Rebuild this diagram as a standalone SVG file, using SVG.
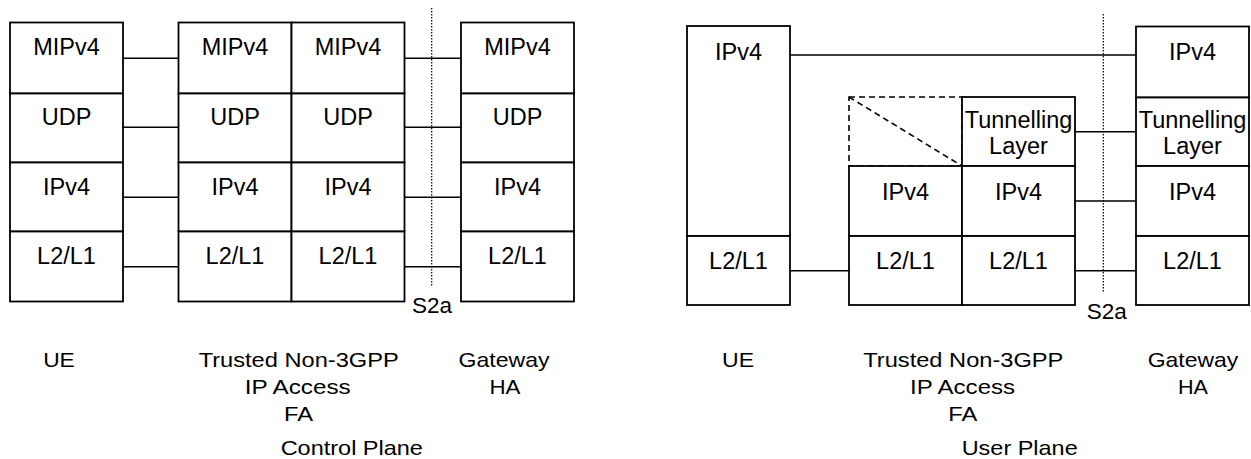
<svg xmlns="http://www.w3.org/2000/svg" width="1251" height="459" viewBox="0 0 1251 459">
<style>
.box{fill:#fff;stroke:#000;stroke-width:1.8}
.t{font-family:"Liberation Sans",Arial,sans-serif;font-size:23.5px;fill:#000;text-anchor:middle}
.lb{font-family:"Liberation Sans",Arial,sans-serif;font-size:21px;fill:#000;text-anchor:middle}
.s2a{font-family:"Liberation Sans",Arial,sans-serif;font-size:22.5px;fill:#000;text-anchor:middle}
.c{stroke:#000;stroke-width:1.6;fill:none}
.dot{stroke:#000;stroke-width:1.2;stroke-dasharray:1.5 1.5;fill:none}
.dash{stroke:#000;stroke-width:1.6;stroke-dasharray:6 4;fill:none}
</style>
<rect width="1251" height="459" fill="#fff"/>

<!-- Control plane -->
<g id="cp-ue">
<rect class="box" x="10" y="22.5" width="113" height="71"/>
<rect class="box" x="10" y="93.5" width="113" height="69"/>
<rect class="box" x="10" y="162.5" width="113" height="69"/>
<rect class="box" x="10" y="231.5" width="113" height="70"/>
<text class="t" x="66.5" y="55">MIPv4</text>
<text class="t" x="66.5" y="125">UDP</text>
<text class="t" x="66.5" y="194.5">IPv4</text>
<text class="t" x="66.5" y="264">L2/L1</text>
</g>
<g id="cp-trusted-1">
<rect class="box" x="178.5" y="22.5" width="113" height="71"/>
<rect class="box" x="178.5" y="93.5" width="113" height="69"/>
<rect class="box" x="178.5" y="162.5" width="113" height="69"/>
<rect class="box" x="178.5" y="231.5" width="113" height="70"/>
<text class="t" x="235" y="55">MIPv4</text>
<text class="t" x="235" y="125">UDP</text>
<text class="t" x="235" y="194.5">IPv4</text>
<text class="t" x="235" y="264">L2/L1</text>
</g>
<g id="cp-trusted-2">
<rect class="box" x="291.5" y="22.5" width="113" height="71"/>
<rect class="box" x="291.5" y="93.5" width="113" height="69"/>
<rect class="box" x="291.5" y="162.5" width="113" height="69"/>
<rect class="box" x="291.5" y="231.5" width="113" height="70"/>
<text class="t" x="348" y="55">MIPv4</text>
<text class="t" x="348" y="125">UDP</text>
<text class="t" x="348" y="194.5">IPv4</text>
<text class="t" x="348" y="264">L2/L1</text>
</g>
<g id="cp-gateway">
<rect class="box" x="461" y="22.5" width="113" height="71"/>
<rect class="box" x="461" y="93.5" width="113" height="69"/>
<rect class="box" x="461" y="162.5" width="113" height="69"/>
<rect class="box" x="461" y="231.5" width="113" height="70"/>
<text class="t" x="517.5" y="55">MIPv4</text>
<text class="t" x="517.5" y="125">UDP</text>
<text class="t" x="517.5" y="194.5">IPv4</text>
<text class="t" x="517.5" y="264">L2/L1</text>
</g>

<!-- User plane -->
<g id="up-ue">
<rect class="box" x="687" y="26" width="103" height="210"/>
<rect class="box" x="687" y="236" width="103" height="69"/>
<text class="t" x="738.5" y="59.5">IPv4</text>
<text class="t" x="738.5" y="268.5">L2/L1</text>
</g>
<g id="up-trusted-1">
<rect x="849" y="97" width="113" height="69" fill="none" class="dash"/>
<line class="dash" x1="849" y1="97" x2="962" y2="166"/>
<rect class="box" x="849" y="166" width="113" height="70"/>
<rect class="box" x="849" y="236" width="113" height="69"/>
<text class="t" x="905.5" y="199.5">IPv4</text>
<text class="t" x="905.5" y="268.5">L2/L1</text>
</g>
<g id="up-trusted-2">
<rect class="box" x="962" y="97" width="113" height="69"/>
<rect class="box" x="962" y="166" width="113" height="70"/>
<rect class="box" x="962" y="236" width="113" height="69"/>
<text class="t" x="1018.5" y="128">Tunnelling</text>
<text class="t" x="1018.5" y="153.5">Layer</text>
<text class="t" x="1018.5" y="199.5">IPv4</text>
<text class="t" x="1018.5" y="268.5">L2/L1</text>
</g>
<g id="up-gateway">
<rect class="box" x="1136" y="26.5" width="113" height="71"/>
<rect class="box" x="1136" y="97.5" width="113" height="68.5"/>
<rect class="box" x="1136" y="166" width="113" height="70"/>
<rect class="box" x="1136" y="236" width="113" height="69"/>
<text class="t" x="1192.5" y="59.5">IPv4</text>
<text class="t" x="1192.5" y="128">Tunnelling</text>
<text class="t" x="1192.5" y="153.5">Layer</text>
<text class="t" x="1192.5" y="199.5">IPv4</text>
<text class="t" x="1192.5" y="268.5">L2/L1</text>
</g>

<!-- Connectors -->
<g id="connectors">
<line class="c" x1="123" y1="58.3" x2="178.5" y2="58.3"/>
<line class="c" x1="123" y1="127.3" x2="178.5" y2="127.3"/>
<line class="c" x1="123" y1="197.3" x2="178.5" y2="197.3"/>
<line class="c" x1="123" y1="266.7" x2="178.5" y2="266.7"/>
<line class="c" x1="404.5" y1="58.3" x2="461" y2="58.3"/>
<line class="c" x1="404.5" y1="127.3" x2="461" y2="127.3"/>
<line class="c" x1="404.5" y1="197.3" x2="461" y2="197.3"/>
<line class="c" x1="404.5" y1="266.7" x2="461" y2="266.7"/>
<line class="dot" x1="431.7" y1="8" x2="431.7" y2="287"/>

<line class="c" x1="790" y1="55" x2="1136" y2="55"/>
<line class="c" x1="790" y1="270.7" x2="849" y2="270.7"/>
<line class="c" x1="1075" y1="131.7" x2="1136" y2="131.7"/>
<line class="c" x1="1075" y1="201" x2="1136" y2="201"/>
<line class="c" x1="1075" y1="270.7" x2="1136" y2="270.7"/>
<line class="dot" x1="1103.3" y1="14" x2="1103.3" y2="293"/>
</g>

<!-- Labels -->
<g id="labels">
<text class="s2a" x="432" y="313">S2a</text>
<text class="lb" x="59" y="367" textLength="31.7" lengthAdjust="spacingAndGlyphs">UE</text>
<text class="lb" x="298.7" y="367" textLength="200" lengthAdjust="spacingAndGlyphs">Trusted Non-3GPP</text>
<text class="lb" x="297.7" y="394" textLength="106" lengthAdjust="spacingAndGlyphs">IP Access</text>
<text class="lb" x="298.5" y="421" textLength="29" lengthAdjust="spacingAndGlyphs">FA</text>
<text class="lb" x="504" y="367" textLength="91" lengthAdjust="spacingAndGlyphs">Gateway</text>
<text class="lb" x="505" y="394" textLength="31" lengthAdjust="spacingAndGlyphs">HA</text>
<text class="lb" x="351.8" y="455" textLength="142.3" lengthAdjust="spacingAndGlyphs">Control Plane</text>

<text class="s2a" x="1106.7" y="319">S2a</text>
<text class="lb" x="738" y="367" textLength="32" lengthAdjust="spacingAndGlyphs">UE</text>
<text class="lb" x="963.3" y="367" textLength="200" lengthAdjust="spacingAndGlyphs">Trusted Non-3GPP</text>
<text class="lb" x="962.5" y="394" textLength="105" lengthAdjust="spacingAndGlyphs">IP Access</text>
<text class="lb" x="962.8" y="421" textLength="29" lengthAdjust="spacingAndGlyphs">FA</text>
<text class="lb" x="1193" y="367" textLength="90.6" lengthAdjust="spacingAndGlyphs">Gateway</text>
<text class="lb" x="1193" y="394" textLength="30" lengthAdjust="spacingAndGlyphs">HA</text>
<text class="lb" x="1019.7" y="455" textLength="116" lengthAdjust="spacingAndGlyphs">User Plane</text>
</g>
</svg>
